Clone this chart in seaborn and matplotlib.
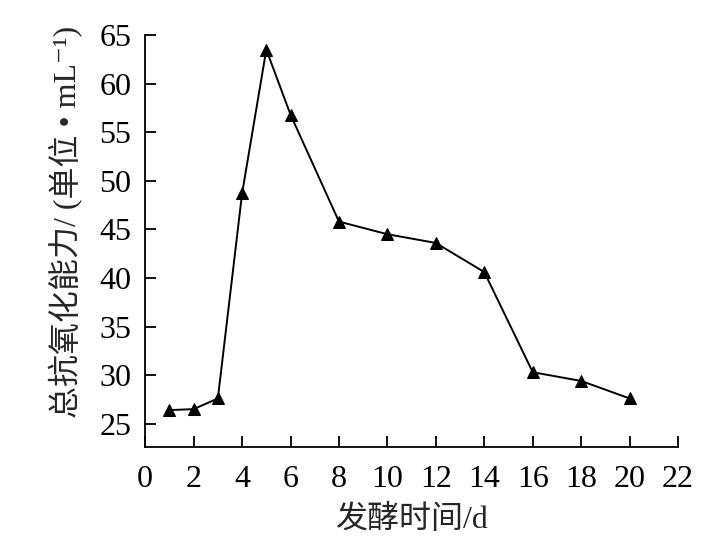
import numpy as np
import pandas as pd
import seaborn as sns
import matplotlib.pyplot as plt

days = [1, 2, 3, 4, 5, 6, 8, 10, 12, 14, 16, 18, 20]
capacity = [26.4, 26.5, 27.6, 48.7, 63.5, 56.8, 45.8, 44.5, 43.6, 40.6, 30.3, 29.4, 27.6]
x_ticks = list(range(0, 23, 2))
y_ticks = list(range(25, 66, 5))

sns.set_theme(style='ticks')
plt.rcParams['font.family'] = ['Liberation Serif', 'Noto Sans CJK SC', 'DejaVu Sans']

df = pd.DataFrame({'day': days, 'tac': capacity})

fig = plt.figure(figsize=(7.26, 5.56), dpi=100)
ax = fig.add_axes([0.2, 0.196, 0.734, 0.741])
sns.lineplot(data=df, x='day', y='tac', ax=ax, color='black', lw=1.4,
             marker='^', markersize=9, markeredgecolor='black')

ax.set_xlim(0, 22)
ax.set_ylim(22.6, 65)
ax.set_xticks(x_ticks)
ax.set_yticks(y_ticks)
ax.tick_params(direction='in', length=8, width=1.3, labelsize=23, colors='black')
ax.tick_params(axis='x', pad=13)
ax.tick_params(axis='y', pad=10)
for s in ['top', 'right']:
    ax.spines[s].set_visible(False)
for s in ['left', 'bottom']:
    ax.spines[s].set_linewidth(1.3)
    ax.spines[s].set_color('black')
ax.set_xlabel('发酵时间/d', fontsize=23)
ax.set_ylabel('总抗氧化能力/ (单位 • mL⁻¹)', fontsize=23)
ax.xaxis.set_label_coords(0.5, -0.14)
ax.yaxis.set_label_coords(-0.117, 0.546)

fig.savefig('out.png', dpi=100)
